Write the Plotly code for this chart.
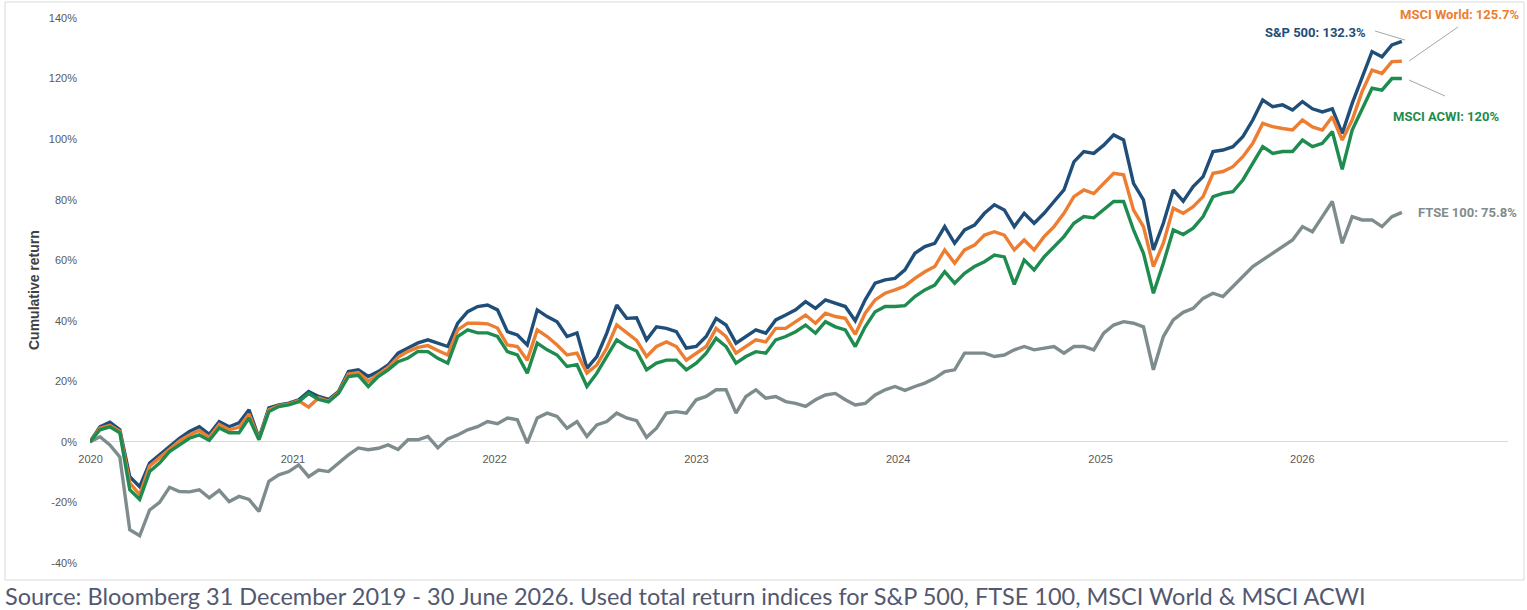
import pandas as pd
import plotly.graph_objects as go

# Cumulative total return (%) at roughly 18-day steps
sp500 = [0, 5.0, 6.5, 4.0, -11.5, -14.8, -7.0, -4.3, -1.5, 1.2,
         3.4, 5.0, 2.5, 6.7, 5.0, 6.3, 10.6, 1.3, 11.2, 12.2,
         12.8, 13.9, 16.6, 15.0, 14.0, 16.6, 23.2, 23.8, 21.6, 23.2,
         25.4, 29.3, 31.0, 32.7, 33.7, 32.7, 31.5, 39.2, 43.0, 44.7,
         45.2, 43.6, 36.4, 35.3, 32.0, 43.6, 41.4, 39.7, 34.8, 36.0,
         24.3, 28.2, 35.9, 45.2, 40.8, 41.0, 33.7, 38.0, 37.5, 36.4,
         31.0, 31.5, 34.8, 40.8, 38.6, 32.6, 34.8, 37.0, 35.9, 40.3,
         41.9, 43.6, 46.3, 44.1, 46.9, 45.8, 44.7, 40.0, 46.9, 52.4,
         53.5, 54.0, 56.8, 62.3, 64.5, 65.6, 71.1, 65.6, 70.0, 71.6,
         75.5, 78.3, 76.6, 71.1, 75.5, 72.2, 75.5, 79.4, 83.2, 92.5,
         95.9, 95.3, 98.0, 101.4, 99.7, 85.4, 79.9, 63.4, 72.2, 83.2,
         79.5, 84.3, 87.6, 95.9, 96.4, 97.5, 100.8, 106.3, 112.9, 110.7,
         111.3, 109.6, 112.4, 110.0, 109.0, 110.0, 101.9, 111.8, 120.0, 128.9,
         127.2, 131.1, 132.3]

msci_world = [0, 4.5, 5.5, 3.5, -13.5, -17.5, -8.0, -5.3, -2.3, 0.3,
              2.3, 3.8, 1.5, 5.8, 4.0, 4.8, 9.2, 0.9, 10.6, 12.0,
              12.5, 13.6, 11.5, 14.5, 13.5, 16.3, 22.4, 22.9, 20.0, 22.4,
              24.6, 27.9, 29.9, 31.2, 31.8, 30.2, 28.7, 37.0, 39.2, 39.2,
              39.0, 37.6, 32.0, 31.5, 27.0, 37.0, 34.8, 32.0, 28.7, 29.3,
              22.7, 25.4, 31.0, 38.6, 36.0, 33.5, 28.2, 31.5, 33.0, 31.5,
              27.0, 29.3, 31.5, 37.5, 34.8, 29.3, 31.5, 33.7, 33.0, 37.5,
              37.5, 39.7, 41.9, 39.2, 42.5, 41.4, 40.8, 35.5, 42.5, 46.9,
              49.1, 50.2, 51.5, 54.0, 56.2, 57.9, 63.4, 59.0, 63.4, 65.0,
              68.3, 69.4, 68.3, 63.4, 66.7, 63.4, 67.8, 71.1, 75.5, 81.0,
              83.2, 82.0, 85.4, 88.7, 88.2, 76.6, 71.1, 57.9, 65.6, 77.2,
              75.5, 77.7, 81.0, 88.7, 89.3, 90.9, 94.2, 98.6, 105.2, 104.1,
              103.5, 103.0, 106.3, 104.0, 103.0, 107.4, 99.7, 106.3, 115.7, 122.8,
              121.7, 125.6, 125.7]

msci_acwi = [0, 4.0, 5.0, 3.0, -15.8, -19.0, -9.8, -7.0, -3.2, -1.0,
             1.2, 2.3, 0.5, 4.6, 3.0, 3.0, 7.9, 0.7, 10.0, 11.7,
             12.2, 13.3, 16.0, 14.0, 13.2, 16.0, 21.6, 22.0, 18.3, 21.6,
             23.8, 26.5, 27.7, 29.9, 29.8, 27.6, 26.0, 34.8, 37.0, 36.0,
             36.0, 34.8, 29.8, 28.7, 22.7, 32.6, 30.4, 28.7, 24.9, 25.5,
             18.3, 22.7, 28.2, 33.7, 31.5, 30.0, 23.8, 26.0, 27.0, 27.0,
             23.8, 26.0, 29.3, 34.2, 31.5, 26.0, 28.2, 29.8, 29.3, 33.7,
             34.8, 36.4, 38.6, 35.9, 39.7, 38.0, 37.0, 31.5, 38.0, 43.0,
             44.7, 44.7, 45.0, 48.0, 50.2, 51.8, 56.2, 52.4, 55.7, 57.9,
             59.5, 61.7, 61.1, 52.0, 60.1, 56.8, 61.1, 64.5, 67.8, 72.2,
             74.4, 74.0, 76.6, 79.4, 79.4, 70.0, 62.3, 49.1, 59.0, 70.0,
             68.5, 70.6, 74.4, 81.0, 82.1, 82.6, 86.5, 92.0, 97.5, 95.3,
             95.9, 95.9, 99.7, 97.5, 98.6, 102.5, 90.0, 103.0, 109.6, 116.8,
             116.2, 120.0, 120.0]

ftse100 = [0, 1.7, -1.0, -5.0, -29.0, -31.0, -22.5, -20.0, -15.0, -16.4,
           -16.5, -15.8, -18.5, -16.0, -19.7, -18.0, -19.0, -23.0, -13.0, -10.9,
           -9.8, -7.6, -11.5, -9.3, -9.8, -7.0, -4.3, -2.0, -2.6, -2.1,
           -1.0, -2.5, 0.7, 0.7, 1.8, -2.0, 1.0, 2.3, 4.0, 5.0,
           6.7, 6.0, 7.9, 7.3, -0.4, 7.9, 9.5, 8.4, 4.5, 6.7,
           1.8, 5.6, 6.7, 9.5, 7.9, 7.0, 1.5, 4.5, 9.5, 10.0,
           9.5, 13.9, 15.0, 17.2, 17.2, 9.5, 15.0, 17.2, 14.4, 15.0,
           13.3, 12.7, 11.7, 13.9, 15.5, 16.0, 13.9, 12.2, 12.7, 15.5,
           17.2, 18.3, 17.0, 18.3, 19.4, 21.0, 23.2, 23.8, 29.3, 29.3,
           29.3, 28.2, 28.7, 30.4, 31.5, 30.4, 31.0, 31.5, 29.3, 31.5,
           31.5, 30.4, 35.9, 38.6, 39.7, 39.2, 38.0, 23.8, 34.8, 40.3,
           42.8, 44.1, 47.4, 49.1, 48.0, 51.3, 54.6, 57.9, 60.1, 62.3,
           64.5, 66.7, 71.1, 69.4, 74.4, 79.4, 65.6, 74.4, 73.3, 73.3,
           71.1, 74.4, 75.8]

dates = pd.date_range("2019-12-31", "2026-06-30", periods=len(sp500))
year_ticks = ["2020-01-01", "2021-01-01", "2022-01-01", "2023-01-01",
              "2024-01-01", "2025-01-01", "2026-01-01"]
year_labels = ["2020", "2021", "2022", "2023", "2024", "2025", "2026"]
y_ticks = [-40, -20, 0, 20, 40, 60, 80, 100, 120, 140]
y_labels = ["-40%", "-20%", "0%", "20%", "40%", "60%", "80%", "100%", "120%", "140%"]

BLUE = "#1F4E79"
ORANGE = "#ED7D31"
GREEN = "#1E8B4F"
GREY = "#7F8C8D"

# pixel -> paper helpers (plot area is x 90..1508, y 18..563)
W, H = 1527, 610
L, R, T, B = 90, 19, 18, 47


def px(x):
    return (x - L) / (W - L - R)


def py(y):
    return (H - B - y) / (H - T - B)


fig = go.Figure()
# draw order: grey first, green on top
for name, vals, col in [("FTSE 100", ftse100, GREY),
                        ("S&P 500", sp500, BLUE),
                        ("MSCI World", msci_world, ORANGE),
                        ("MSCI ACWI", msci_acwi, GREEN)]:
    fig.add_trace(go.Scatter(x=dates, y=vals, name=name, mode="lines",
                             line=dict(color=col, width=3.4)))

fig.update_layout(
    width=W, height=H,
    margin=dict(l=L, r=R, t=T, b=B),
    plot_bgcolor="white", paper_bgcolor="white",
    showlegend=False,
    font=dict(family="Liberation Sans, Arial, sans-serif", color="#595959", size=11),
    xaxis=dict(type="date", range=["2019-12-31", "2027-01-08"],
               tickvals=year_ticks, ticktext=year_labels,
               showgrid=False, showline=False, zeroline=False,
               anchor="free", position=py(442), ticklabelstandoff=9),
    yaxis=dict(range=[-40, 140], tickvals=y_ticks, ticktext=y_labels,
               showgrid=False, showline=False,
               zeroline=True, zerolinecolor="#d9d9d9", zerolinewidth=1,
               ticklabelstandoff=12),
)

# outer chart frame
fig.add_shape(type="rect", xref="paper", yref="paper",
              x0=px(5), x1=px(1524), y0=py(580), y1=py(2),
              line=dict(color="#d9d9d9", width=1), layer="below")

# leader lines for end labels
for (x0, y0, x1, y1) in [(1375, 31, 1405, 40), (1458, 27, 1409, 61), (1409, 80, 1445, 96)]:
    fig.add_shape(type="line", xref="paper", yref="paper",
                  x0=px(x0), y0=py(y0), x1=px(x1), y1=py(y1),
                  line=dict(color="#a6a6a6", width=1))

label_font = "Roboto, Arial, sans-serif"
for text, x, y, col in [("S&P 500: 132.3%", 1315, 33, BLUE),
                        ("MSCI World: 125.7%", 1459, 14, ORANGE),
                        ("MSCI ACWI: 120%", 1446, 117, GREEN),
                        ("FTSE 100: 75.8%", 1467, 213, GREY)]:
    fig.add_annotation(text="<b>" + text + "</b>", xref="paper", yref="paper",
                       x=px(x), y=py(y), showarrow=False,
                       xanchor="center", yanchor="middle",
                       font=dict(family=label_font, size=13, color=col))

fig.add_annotation(text="<b>Cumulative return</b>", xref="paper", yref="paper",
                   x=px(34), y=py(290), textangle=-90, showarrow=False,
                   xanchor="center", yanchor="middle",
                   font=dict(size=14, color="#404040"))

fig.add_annotation(text="Source: Bloomberg 31 December 2019 - 30 June 2026. "
                        "Used total return indices for S&P 500, FTSE 100, MSCI World & MSCI ACWI",
                   xref="paper", yref="paper", x=px(3), y=py(596),
                   xanchor="left", yanchor="middle", showarrow=False,
                   font=dict(family="Lato, sans-serif", size=23.5, color="#535870"))

fig.write_html("out.html", config={"displayModeBar": False},
               post_script="document.body.style.margin='0';")
